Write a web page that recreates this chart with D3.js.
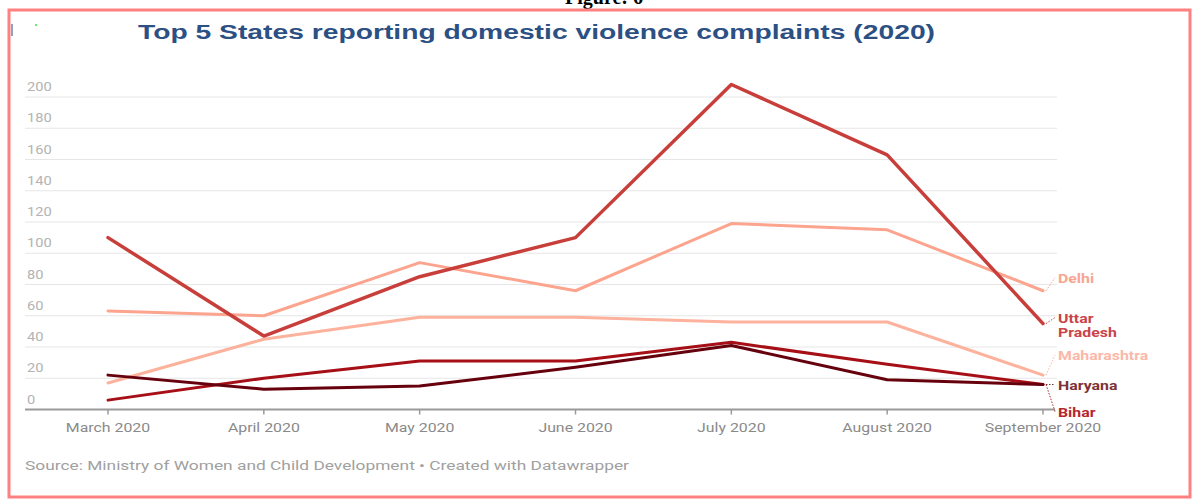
<!DOCTYPE html>
<html>
<head>
<meta charset="utf-8">
<script src="https://cdn.jsdelivr.net/npm/d3@7"></script>
<style>
  body { margin: 0; background: #fff; }
  text { font-family: Roboto, "Noto Sans", sans-serif; }
</style>
</head>
<body>
<div id="wrapper"></div>
<script>
// data
const months = ["March 2020", "April 2020", "May 2020", "June 2020", "July 2020", "August 2020", "September 2020"]
const uttarPradesh = [110, 47, 85, 110, 208, 163, 55]
const delhi = [63, 60, 94, 76, 119, 115, 76]
const maharashtra = [17, 45, 59, 59, 56, 56, 22]
const haryana = [22, 13, 15, 27, 41, 19, 16]
const bihar = [6, 20, 31, 31, 43, 29, 16]
const yTicks = [0, 20, 40, 60, 80, 100, 120, 140, 160, 180, 200]

// drawn bottom to top
const series = [
  { name: ["Maharashtra"], values: maharashtra, color: "#fdb29d", label: "#fbb8a8", width: 3, dy: -20 },
  { name: ["Delhi"], values: delhi, color: "#fca48e", label: "#f8a592", width: 3, dy: -13 },
  { name: ["Bihar"], values: bihar, color: "#a50f15", label: "#b5262e", width: 3, dy: 27 },
  { name: ["Haryana"], values: haryana, color: "#67000d", label: "#7d3236", width: 3, dy: 0 },
  { name: ["Uttar", "Pradesh"], values: uttarPradesh, color: "#c73e3a", label: "#c9444a", width: 3.5, dy: 1 },
]

const width = 1194
const height = 500
const SX = 1.22 // the screenshot is stretched sideways

const svg = d3.select("#wrapper").append("svg")
    .attr("width", width)
    .attr("height", height)

const x = d3.scalePoint()
    .domain(months)
    .range([108, 1043])

const y = d3.scaleLinear()
    .domain([0, 200])
    .range([409.5, 97])

// page bits
svg.append("text")
    .attr("x", 604).attr("y", 4)
    .attr("text-anchor", "middle")
    .style("font-family", "'Liberation Serif', serif")
    .style("font-weight", "bold")
    .style("font-size", "20px")
    .attr("fill", "#000")
    .text("Figure: 6")

svg.append("rect")
    .attr("x", 9).attr("y", 10)
    .attr("width", 1181).attr("height", 487)
    .attr("fill", "none")
    .attr("stroke", "#ff8080")
    .attr("stroke-width", 3)

svg.append("rect").attr("x", 11).attr("y", 24).attr("width", 2).attr("height", 12).attr("fill", "#8fa3c0")
svg.append("rect").attr("x", 35).attr("y", 24).attr("width", 2).attr("height", 2).attr("fill", "#66ee66")

svg.append("text")
    .attr("x", 138).attr("y", 39)
    .attr("textLength", 797)
    .attr("lengthAdjust", "spacingAndGlyphs")
    .style("font-family", "'Liberation Sans', Arial, sans-serif")
    .style("font-weight", "bold")
    .style("font-size", "20px")
    .attr("fill", "#2c5083")
    .text("Top 5 States reporting domestic violence complaints (2020)")

// grid + y labels
const grid = svg.append("g")
grid.selectAll("line")
    .data(yTicks.filter(d => d > 0))
    .join("line")
    .attr("x1", 25).attr("x2", 1057)
    .attr("y1", d => y(d)).attr("y2", d => y(d))
    .attr("stroke", "#e6e6e6")
    .attr("stroke-width", 1)

grid.selectAll("g.ylab")
    .data(yTicks)
    .join("g")
    .attr("class", "ylab")
    .attr("transform", d => `translate(27, ${y(d) - 6}) scale(${SX}, 1)`)
    .append("text")
    .attr("fill", "#b3b3b3")
    .style("font-size", "12px")
    .text(d => d)

// x axis
const xAxis = svg.append("g")
xAxis.append("line")
    .attr("x1", 25).attr("x2", 1055)
    .attr("y1", y(0)).attr("y2", y(0))
    .attr("stroke", "#9a9a9a")
    .attr("stroke-width", 2)

xAxis.selectAll("line.tick")
    .data(months)
    .join("line")
    .attr("class", "tick")
    .attr("x1", d => x(d)).attr("x2", d => x(d))
    .attr("y1", y(0)).attr("y2", y(0) + 5)
    .attr("stroke", "#9a9a9a")
    .attr("stroke-width", 1.5)

xAxis.selectAll("g.xlab")
    .data(months)
    .join("g")
    .attr("class", "xlab")
    .attr("transform", d => `translate(${x(d)}, 432) scale(${SX}, 1)`)
    .append("text")
    .attr("text-anchor", "middle")
    .attr("fill", "#8a8a8a")
    .style("font-size", "13px")
    .text(d => d)

// lines
const line = d3.line()
    .x((d, i) => x(months[i]))
    .y(d => y(d))

svg.append("g")
    .selectAll("path")
    .data(series)
    .join("path")
    .attr("d", d => line(d.values))
    .attr("fill", "none")
    .attr("stroke", d => d.color)
    .attr("stroke-width", d => d.width)
    .attr("stroke-linejoin", "round")
    .attr("stroke-linecap", "round")

// direct labels
const last = months[months.length - 1]
const labels = svg.append("g")
series.forEach(s => {
    const endY = y(s.values[s.values.length - 1])
    const ly = endY + s.dy
    const firstLine = ly - (s.name.length - 1) * 7
    labels.append("line")
        .attr("x1", x(last) + 3).attr("y1", endY)
        .attr("x2", x(last) + 12).attr("y2", firstLine)
        .attr("stroke", s.label)
        .attr("stroke-width", 1)
        .attr("stroke-dasharray", "1.5,1.5")
    s.name.forEach((part, i) => {
        labels.append("g")
            .attr("transform", `translate(${x(last) + 15}, ${firstLine + 5 + i * 14}) scale(${SX}, 1)`)
            .append("text")
            .attr("fill", s.label)
            .style("font-size", "13px")
            .style("font-weight", "bold")
            .text(part)
    })
})

// source
svg.append("text")
    .attr("x", 25).attr("y", 470)
    .attr("textLength", 604)
    .attr("lengthAdjust", "spacingAndGlyphs")
    .attr("fill", "#a0a0a0")
    .style("font-size", "12px")
    .text("Source: Ministry of Women and Child Development • Created with Datawrapper")
</script>
</body>
</html>
